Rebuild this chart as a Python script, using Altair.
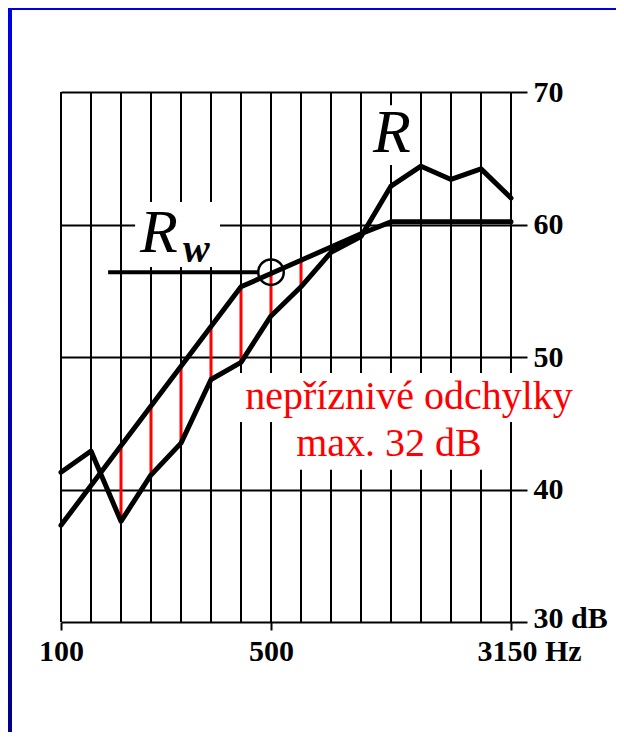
import altair as alt
import pandas as pd

# ---- data ----
freqs = [100, 125, 160, 200, 250, 315, 400, 500, 630, 800, 1000, 1250, 1600, 2000, 2500, 3150]
ref_curve = [37.3, 40.3, 43.3, 46.3, 49.3, 52.3, 55.3, 56.3, 57.3, 58.3, 59.3, 60.2, 60.2, 60.2, 60.2, 60.2]
measured = [41.3, 42.9, 37.6, 41.1, 43.5, 48.3, 49.6, 53.1, 55.3, 57.9, 59.1, 62.9, 64.4, 63.4, 64.2, 62.0]
rw_value = 56.4
rw_line_x = [1.57, 6.6]
y_ticks = [30, 40, 50, 60, 70]
x_tick_freqs = [100, 500, 3150]
red_text = ["nepříznivé odchylky", "max. 32 dB"]

FONT = "Liberation Serif"

idx = list(range(len(freqs)))
df = pd.DataFrame({"idx": idx, "freq": freqs, "ref": ref_curve, "R": measured})
unfav = df[df["R"] < df["ref"]]

x_tick_idx = [freqs.index(f) for f in x_tick_freqs]
lab_parts = []
for i, f in zip(x_tick_idx, x_tick_freqs):
    lab = str(f) + (" Hz" if f == x_tick_freqs[-1] else "")
    lab_parts.append(f"datum.value == {i} ? '{lab}'")
x_label_expr = " : ".join(lab_parts) + " : ''"

x_scale = alt.Scale(domain=[0, len(freqs) - 1], nice=False, zero=False)
y_scale = alt.Scale(domain=[y_ticks[0], y_ticks[-1]], nice=False, zero=False)

x_axis = alt.Axis(
    values=x_tick_idx, labelExpr=x_label_expr, labelFont=FONT, labelFontSize=30,
    labelFontWeight="bold", labelColor="black", labelFlush=False,
    labelOffset=alt.expr(f"datum.value == {x_tick_idx[-1]} ? 18 : 0"),
    labelPadding=6, tickSize=8, tickColor="black", tickWidth=2,
    domain=False, grid=False, title=None,
)
y_axis = alt.Axis(
    orient="right", values=y_ticks,
    labelExpr=f"datum.value == {y_ticks[0]} ? datum.label + ' dB' : datum.label",
    labelFont=FONT, labelFontSize=30, labelFontWeight="bold", labelColor="black",
    labelPadding=6, tickSize=16, tickColor="black", tickWidth=2,
    labelOffset=alt.expr(f"datum.value == {y_ticks[0]} ? -4 : 0"),
    grid=True, gridColor="black", gridWidth=2, gridOpacity=1,
    domain=False, title=None,
)


def X(field):
    return alt.X(f"{field}:Q", scale=x_scale, axis=x_axis, title=None)


def Y(field):
    return alt.Y(f"{field}:Q", scale=y_scale, axis=y_axis, title=None)


# vertical grid lines at every third-octave band
vgrid = alt.Chart(df).transform_calculate(
    lo=str(y_ticks[0]), hi=str(y_ticks[-1])
).mark_rule(color="black", strokeWidth=2).encode(x=X("idx"), y=Y("lo"), y2="hi")

# white boxes behind the annotation texts
boxes = pd.DataFrame({
    "x0": [2.47, 10.23, 5.6, 7.5],
    "x1": [5.3, 11.8, 17.0, 14.6],
    "y0": [56.8, 64.5, 45.1, 41.5],
    "y1": [61.7, 69.0, 48.8, 45.1],
})
box_layer = alt.Chart(boxes).mark_rect(color="white").encode(
    x=X("x0"), x2="x1", y=Y("y0"), y2="y1"
)

big_r = pd.DataFrame({"t": ["R", "R"], "x": [11.03, 2.63], "y": [65.47, 57.92]})
r_center = alt.Chart(big_r.iloc[[0]]).mark_text(
    font=FONT, fontSize=62, fontStyle="italic", align="center", baseline="alphabetic", color="black"
).encode(x=X("x"), y=Y("y"), text="t:N")
r_left = alt.Chart(big_r.iloc[[1]]).mark_text(
    font=FONT, fontSize=62, fontStyle="italic", align="left", baseline="alphabetic", color="black"
).encode(x=X("x"), y=Y("y"), text="t:N")
w_sub = alt.Chart(pd.DataFrame({"t": ["w"], "x": [4.07], "y": [57.17]})).mark_text(
    font=FONT, fontSize=40, fontStyle="italic", fontWeight="bold", align="left",
    baseline="alphabetic", color="black"
).encode(x=X("x"), y=Y("y"), text="t:N")

red_df = pd.DataFrame({"t": red_text, "x": [11.6, 10.93], "y": [46.1, 42.5]})
red_layer = alt.Chart(red_df).mark_text(
    font=FONT, fontSize=40, align="center", baseline="alphabetic", color="#FF0000"
).encode(x=X("x"), y=Y("y"), text="t:N")

red_rules = alt.Chart(unfav).mark_rule(color="#FF0000", strokeWidth=3).encode(
    x=X("idx"), y=Y("R"), y2="ref"
)

ref_line = alt.Chart(df).mark_line(
    color="black", strokeWidth=5, strokeCap="round", strokeJoin="round"
).encode(x=X("idx"), y=Y("ref"))
meas_line = alt.Chart(df).mark_line(
    color="black", strokeWidth=5, strokeCap="round", strokeJoin="round"
).encode(x=X("idx"), y=Y("R"))

rw_df = pd.DataFrame({"x0": [rw_line_x[0]], "x1": [rw_line_x[1]], "y": [rw_value]})
rw_line = alt.Chart(rw_df).mark_rule(color="black", strokeWidth=4).encode(
    x=X("x0"), x2="x1", y=Y("y")
)
circle = alt.Chart(pd.DataFrame({"x": [freqs.index(500)], "y": [rw_value]})).mark_point(
    shape="circle", size=650, filled=False, color="black", strokeWidth=2.5, opacity=1
).encode(x=X("x"), y=Y("y"))

# blue slide frame strips (decoration)
one = pd.DataFrame({"a": [0]})
blue_grad = alt.LinearGradient(
    gradient="linear", x1=0, x2=0, y1=0, y2=1,
    stops=[alt.GradientStop(color="#0000E6", offset=0), alt.GradientStop(color="#00008A", offset=1)],
)
left_strip = alt.Chart(one).mark_rect(color=blue_grad).encode(
    x=alt.value(-53), x2=alt.value(-49), y=alt.value(-84), y2=alt.value(642)
)
top_strip = alt.Chart(one).mark_rect(color="#0000E0").encode(
    x=alt.value(-53), x2=alt.value(555), y=alt.value(-84), y2=alt.value(-82)
)

chart = alt.layer(
    vgrid, box_layer, r_center, r_left, w_sub, red_layer,
    red_rules, ref_line, meas_line, rw_line, circle, left_strip, top_strip,
).properties(
    width=450, height=530,
    padding={"left": 53, "top": 84, "right": 105, "bottom": 110},
    autosize=alt.AutoSizeParams(type="none"),
    background="white",
).configure_view(stroke=None)

chart.save("out.html", embed_options={"renderer": "svg", "actions": False})
